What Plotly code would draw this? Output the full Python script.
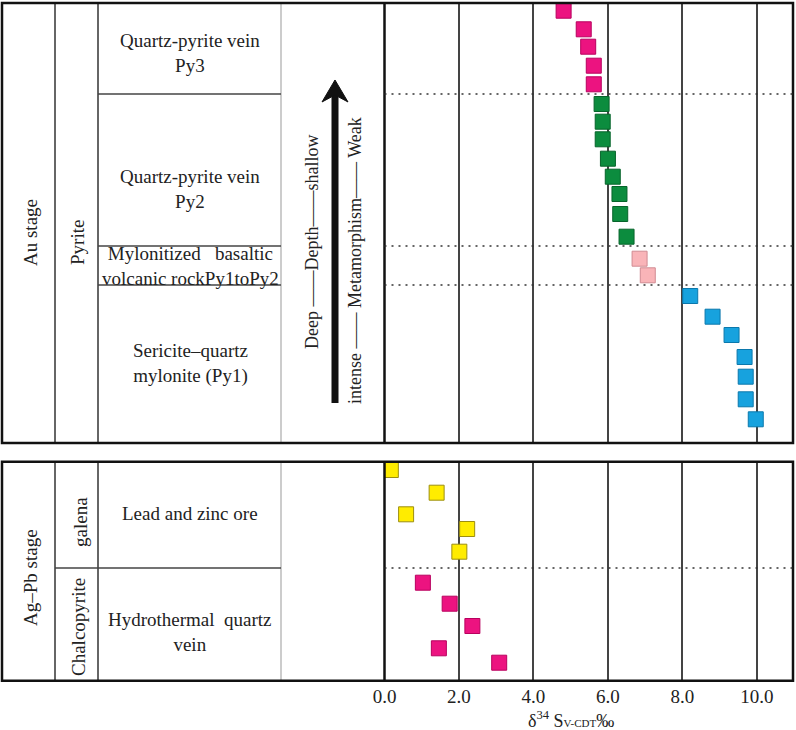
import plotly.graph_objects as go

# d34S values (permil), top panel (Au stage, pyrite)
py3_d34s = [4.81, 5.35, 5.47, 5.62, 5.62]
py2_d34s = [5.83, 5.86, 5.86, 6.00, 6.13, 6.31, 6.33, 6.50]
py12_d34s = [6.85, 7.07]
py1_d34s = [8.21, 8.81, 9.32, 9.67, 9.70, 9.70, 9.97]

# vertical position in the column (top = 0, bottom = 44)
py3_pos = [0.77, 2.63, 4.37, 6.27, 8.13]
py2_pos = [10.1, 11.87, 13.63, 15.57, 17.37, 19.1, 21.1, 23.37]
py12_pos = [25.57, 27.23]
py1_pos = [29.3, 31.37, 33.2, 35.4, 37.37, 39.63, 41.63]
top_bounds = [9.1, 24.3, 28.2]

# bottom panel (Ag-Pb stage)
galena_d34s = [0.17, 1.40, 0.58, 2.22, 2.01]
ccp_d34s = [1.03, 1.75, 2.36, 1.46, 3.08]
galena_pos = [0.83, 3.1, 5.26, 6.73, 9.0]
ccp_pos = [12.1, 14.2, 16.43, 18.66, 20.1]
bottom_bounds = [10.64]

tick_vals = [0, 2, 4, 6, 8, 10]
tick_text = ["0.0", "2.0", "4.0", "6.0", "8.0", "10.0"]

W, H = 796, 730
FONT = "Liberation Serif"
TOP = (3, 443)        # pixel rows of top panel
BOT = (461.7, 680.7)  # pixel rows of bottom panel
XL, XR = 384.5, 793


def px(x):
    return x / W


def py(y):
    return 1 - y / H


def top_row(v):
    return TOP[0] + v * (TOP[1] - TOP[0]) / 44.0


def bot_row(v):
    return BOT[0] + v * (BOT[1] - BOT[0]) / 21.9


fig = go.Figure()


def add_pts(x, y, fill, edge, axes):
    fig.add_trace(go.Scatter(
        x=x, y=y, mode="markers", xaxis=axes[0], yaxis=axes[1],
        marker=dict(symbol="square", size=15, color=fill,
                    line=dict(color=edge, width=1)),
        hoverinfo="x", showlegend=False))


add_pts(py3_d34s, py3_pos, "#EC1380", "#B8005E", ("x", "y"))
add_pts(py2_d34s, py2_pos, "#0C8C3E", "#07642B", ("x", "y"))
add_pts(py12_d34s, py12_pos, "#F9B4B8", "#D08A92", ("x", "y"))
add_pts(py1_d34s, py1_pos, "#17A2DE", "#0B78AC", ("x", "y"))
add_pts(galena_d34s, galena_pos, "#FFEC00", "#9C8E10", ("x2", "y2"))
add_pts(ccp_d34s, ccp_pos, "#EC1380", "#B8005E", ("x2", "y2"))

shapes = []


def line(x0, y0, x1, y1, w=1.5, c="#333", dash=None):
    shapes.append(dict(type="line", xref="paper", yref="paper",
                       x0=px(x0), y0=py(y0), x1=px(x1), y1=py(y1),
                       line=dict(color=c, width=w, dash=dash)))


# table frames
for (y0, y1) in (TOP, BOT):
    line(55, y0, 55, y1, 1.5, "#333")
    line(98, y0, 98, y1, 1.5, "#333")
    line(281, y0, 281, y1, 1, "#999")
    line(XL, y0, XL, y1, 2.5, "#111")
    shapes.append(dict(type="rect", xref="paper", yref="paper",
                       x0=px(2), y0=py(y0), x1=px(XR), y1=py(y1),
                       line=dict(color="#111", width=2.5)))

for b in top_bounds:
    line(98, top_row(b), 281, top_row(b), 1.5, "#444")
    line(XL, top_row(b), XR, top_row(b), 1.5, "#333", "2px,5px")
for b in bottom_bounds:
    line(55, bot_row(b), 281, bot_row(b), 1.5, "#444")
    line(XL, bot_row(b), XR, bot_row(b), 1.5, "#333", "2px,5px")

# upward arrow
line(335, 403, 335, 92, 7, "#111")
shapes.append(dict(type="path", xref="paper", yref="paper",
                   path="M %f,%f L %f,%f L %f,%f L %f,%f Z" % (
                       px(335), py(80), px(348), py(102),
                       px(335), py(95), px(322), py(102)),
                   fillcolor="#111", line=dict(color="#111", width=1)))

annotations = []


def label(text, x, y, size=19, angle=0):
    annotations.append(dict(text=text, x=px(x), y=py(y), xref="paper",
                            yref="paper", showarrow=False, textangle=angle,
                            xanchor="center", yanchor="middle",
                            font=dict(family=FONT, size=size, color="#222")))


label("Au stage", 30, 232, angle=-90)
label("Pyrite", 77, 243, angle=-90)
label("Quartz-pyrite vein<br>Py3", 190, 53)
label("Quartz-pyrite vein<br>Py2", 190, 189)
label("Mylonitized\u00a0\u00a0\u00a0basaltic<br>volcanic rockPy1toPy2", 190, 266, 19)
label("Sericite–quartz<br>mylonite (Py1)", 190, 363)
label("Deep ——Depth——shallow", 312, 242, 18, angle=-90)
label("intense —— Metamorphism—— Weak", 355, 261, 18, angle=-90)

label("Ag–Pb stage", 30, 577, angle=-90)
label("galena", 80, 522, angle=-90)
label("Chalcopyrite", 78, 627, angle=-90)
label("Lead and zinc ore", 190, 513)
label("Hydrothermal  quartz<br>vein", 190, 632)

label("δ<sup>34</sup> S<span style='font-size:11px'>V-CDT</span>‰", 571, 719, 18)

xcommon = dict(range=[0, 10.97], domain=[px(XL), px(XR)], showgrid=True,
               gridcolor="#444", gridwidth=1.5, zeroline=False,
               tickvals=tick_vals, ticktext=tick_text, ticks="",
               showline=False, fixedrange=True, automargin=False)

fig.update_layout(
    template="none",
    width=W, height=H,
    margin=dict(l=0, r=0, t=0, b=0, pad=0, autoexpand=False),
    paper_bgcolor="white", plot_bgcolor="white",
    showlegend=False,
    xaxis=dict(**xcommon, anchor="y", showticklabels=False),
    yaxis=dict(range=[44.0, 0], domain=[py(TOP[1]), py(TOP[0])],
               anchor="x", visible=False, fixedrange=True, automargin=False),
    xaxis2=dict(**xcommon, anchor="y2", showticklabels=True,
                ticklabelstandoff=2,
                tickfont=dict(family=FONT, size=19, color="#222")),
    yaxis2=dict(range=[21.9, 0], domain=[py(BOT[1]), py(BOT[0])],
                anchor="x2", visible=False, fixedrange=True, automargin=False),
    shapes=shapes,
    annotations=annotations,
)

# page body has a default 8px margin; drop it so the figure fills the window
fig.write_html("out.html", config={"displayModeBar": False},
               post_script="document.body.style.margin='0';")
